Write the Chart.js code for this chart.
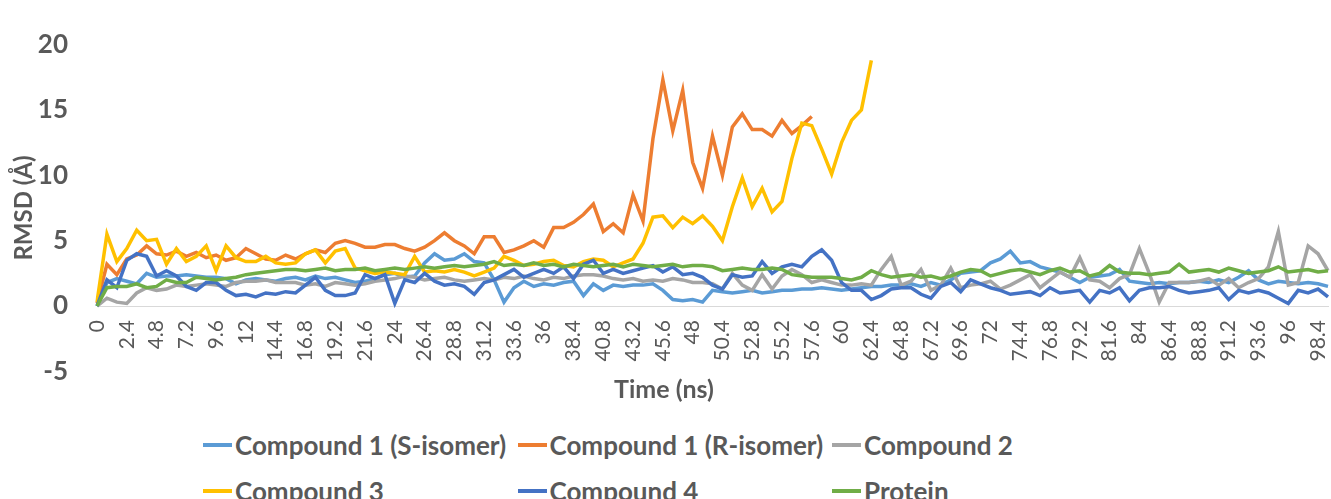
<!DOCTYPE html>
<html lang="en">
<head>
    <meta charset="UTF-8">
    <title>RMSD vs Time</title>
    <script src="https://cdn.jsdelivr.net/npm/chart.js"></script>
    <style>
        body {
            margin: 0;
            background-color: white;
            font-family: Lato, Arial, sans-serif;
        }
        #wrap {
            position: relative;
            width: 1331px;
            height: 499px;
            overflow: hidden;
        }
        #chartBox {
            position: absolute;
            left: 0;
            top: 0;
            width: 1331px;
            height: 416px;
        }
        .legend-item {
            position: absolute;
            display: flex;
            align-items: center;
            color: #595959;
            font-weight: bold;
            font-size: 26px;
            white-space: nowrap;
            transform: translateY(-50%);
        }
        .legend-item .swatch {
            display: inline-block;
            width: 29px;
            height: 4px;
            margin-right: 3px;
        }
    </style>
</head>
<body>
    <div id="wrap">
        <div id="chartBox"><canvas id="rmsdChart"></canvas></div>
        <div id="legend"></div>
    </div>

    <script>
        // time axis, 0.8 ns per frame
        const timeLabels = [];
        for (let i = 0; i < 125; i++) timeLabels.push((Math.round(i * 8) / 10).toString());

        const seriesNames = ['Compound 1 (S-isomer)', 'Compound 1 (R-isomer)', 'Compound 2',
                             'Compound 3', 'Compound 4', 'Protein'];
        const seriesColors = ['#5B9BD5', '#ED7D31', '#A5A5A5', '#FFC000', '#4472C4', '#70AD47'];

        const compound1S = [
            0.0, 1.8, 2.1, 1.9, 1.7, 2.5, 2.2, 2.3, 2.3, 2.4,
            2.3, 2.2, 2.2, 2.1, 1.7, 2.0, 2.1, 2.0, 1.9, 2.1,
            2.2, 2.0, 2.3, 2.1, 2.2, 2.0, 1.8, 1.9, 2.1, 2.4,
            2.5, 2.2, 2.3, 3.3, 4.0, 3.5, 3.6, 4.0, 3.4, 3.3,
            2.0, 0.3, 1.4, 1.9, 1.5, 1.7, 1.6, 1.8, 1.9, 0.8,
            1.7, 1.2, 1.6, 1.5, 1.6, 1.6, 1.7, 1.2, 0.5, 0.4,
            0.5, 0.3, 1.2, 1.1, 1.0, 1.1, 1.2, 1.0, 1.1, 1.2,
            1.2, 1.3, 1.3, 1.4, 1.3, 1.2, 1.3, 1.4, 1.5, 1.5,
            1.6, 1.6, 1.7, 1.5, 1.8, 1.6, 2.0, 2.5, 2.6, 2.7,
            3.3, 3.6, 4.2, 3.3, 3.4, 3.0, 2.8, 2.6, 2.2, 1.8,
            2.2, 2.3, 2.4, 2.8, 1.9, 1.8, 1.7, 1.8, 1.7, 1.8,
            1.8, 1.9, 1.8, 2.0, 1.8, 2.2, 2.7, 2.0, 1.7, 1.9,
            1.8, 1.7, 1.8, 1.7, 1.5
        ];

        const compound1R = [
            0.2, 3.2, 2.4, 3.6, 3.9, 4.6, 4.0, 3.9, 4.2, 3.8,
            4.1, 3.7, 3.9, 3.5, 3.7, 4.4, 4.0, 3.6, 3.5, 3.9,
            3.6, 4.0, 4.3, 4.1, 4.8, 5.0, 4.8, 4.5, 4.5, 4.7,
            4.7, 4.4, 4.2, 4.5, 5.0, 5.6, 5.0, 4.6, 4.0, 5.3,
            5.3, 4.1, 4.3, 4.6, 5.0, 4.5, 6.0, 6.0, 6.4, 7.0,
            7.8, 5.7, 6.3, 5.6, 8.5, 6.5, 12.8, 17.3, 13.4, 16.5,
            11.0, 9.0, 13.0, 10.0, 13.7, 14.7, 13.5, 13.5, 13.0, 14.2,
            13.2, 13.8, 14.5
        ];

        const compound2 = [
            0.0, 0.6, 0.3, 0.2, 1.0, 1.4, 1.2, 1.3, 1.6, 1.5,
            1.6, 1.7, 1.6, 1.5, 1.8, 1.9, 1.9, 2.0, 1.8, 1.8,
            1.8, 1.6, 1.7, 1.5, 1.8, 1.7, 1.6, 1.7, 1.9, 2.0,
            2.1, 2.3, 2.2, 2.0, 2.1, 2.2, 2.0, 1.9, 2.0, 2.1,
            2.0, 2.2, 2.1, 2.3, 2.1, 2.0, 2.2, 2.1, 2.3, 2.4,
            2.4, 2.3, 2.1, 2.0, 2.1, 1.9, 2.0, 1.9, 2.1, 2.0,
            1.8, 1.8, 1.7, 1.3, 2.5, 1.6, 1.2, 2.4, 1.3, 2.3,
            2.8, 2.4, 1.8, 2.0, 1.8, 1.6, 1.6, 1.7, 1.6, 2.8,
            3.8, 1.6, 1.9, 2.8, 1.2, 1.6, 2.9, 1.4, 1.6, 1.7,
            1.9, 1.3, 1.6, 2.0, 2.4, 1.4, 2.0, 2.6, 2.2, 3.7,
            2.0, 1.9, 1.4, 2.1, 2.4, 4.4, 2.5, 0.3, 1.8, 1.8,
            1.8, 1.9, 2.1, 1.6, 2.1, 1.4, 1.8, 2.1, 3.0, 5.7,
            1.6, 1.8, 4.6, 4.0, 2.7
        ];

        const compound3 = [
            0.3, 5.5, 3.4, 4.4, 5.8, 5.0, 5.1, 3.2, 4.4, 3.4,
            3.8, 4.6, 2.7, 4.6, 3.7, 3.4, 3.4, 3.8, 3.3, 3.2,
            3.3, 4.0, 4.3, 3.3, 4.2, 4.4, 2.9, 2.7, 2.5, 2.6,
            2.5, 2.4, 3.8, 2.6, 2.7, 2.6, 2.8, 2.6, 2.3, 2.6,
            2.9, 3.8, 3.5, 3.1, 3.2, 3.4, 3.5, 3.1, 3.0, 3.4,
            3.6, 3.5, 3.0, 3.3, 3.6, 4.8, 6.8, 6.9, 6.0, 6.8,
            6.3, 6.9, 6.1, 5.0, 7.6, 9.8, 7.6, 9.0, 7.2, 8.0,
            11.3, 14.0, 13.8, 12.0, 10.1, 12.5, 14.2, 15.0, 18.8
        ];

        const compound4 = [
            0.0, 2.0, 1.4, 3.5, 4.0, 3.8, 2.3, 2.7, 2.3, 1.5,
            1.2, 1.8, 1.8, 1.2, 0.8, 0.9, 0.7, 1.0, 0.9, 1.1,
            1.0, 1.6, 2.2, 1.2, 0.8, 0.8, 1.0, 2.4, 2.1, 2.4,
            0.2, 2.0, 1.8, 2.5, 1.9, 1.6, 1.7, 1.5, 0.9, 1.8,
            2.0, 2.4, 2.8, 2.2, 2.5, 2.8, 2.5, 3.0, 2.1, 3.2,
            3.5, 2.5, 2.8, 2.5, 2.7, 2.9, 3.1, 2.6, 3.0, 2.4,
            2.5, 2.2, 1.6, 1.3, 2.4, 2.2, 2.3, 3.4, 2.5, 3.0,
            3.2, 3.0, 3.8, 4.3, 3.5, 1.8, 1.2, 1.2, 0.5, 0.8,
            1.3, 1.4, 1.4, 0.9, 0.6, 1.5, 1.8, 1.1, 2.0, 1.7,
            1.4, 1.2, 0.9, 1.0, 1.1, 0.8, 1.4, 1.0, 1.1, 1.2,
            0.3, 1.2, 1.0, 1.4, 0.4, 1.2, 1.4, 1.4, 1.5, 1.2,
            1.0, 1.1, 1.2, 1.4, 0.5, 1.2, 1.0, 1.2, 1.0, 0.6,
            0.2, 1.2, 1.0, 1.3, 0.7
        ];

        const protein = [
            0.0, 1.4, 1.5, 1.5, 1.7, 1.4, 1.5, 2.0, 1.8, 1.8,
            2.2, 2.1, 2.0, 2.1, 2.2, 2.4, 2.5, 2.6, 2.7, 2.8,
            2.8, 2.7, 2.8, 2.9, 2.7, 2.8, 2.8, 2.9, 2.7, 2.8,
            2.9, 2.8, 2.9, 3.0, 2.9, 3.0, 3.1, 3.0, 3.1, 3.2,
            3.4, 3.1, 3.2, 3.1, 3.3, 3.1, 3.2, 3.0, 3.2, 3.1,
            3.0, 3.1, 3.2, 3.0, 3.2, 3.1, 3.0, 3.1, 3.2, 3.0,
            3.1, 3.1, 3.0, 2.7, 2.8, 2.9, 2.8, 2.8, 2.9, 2.8,
            2.4, 2.3, 2.2, 2.2, 2.2, 2.1, 2.0, 2.2, 2.7, 2.4,
            2.2, 2.3, 2.4, 2.2, 2.3, 2.1, 2.3, 2.6, 2.8, 2.7,
            2.3, 2.5, 2.7, 2.8, 2.6, 2.4, 2.7, 2.9, 2.6, 2.7,
            2.3, 2.5, 3.1, 2.6, 2.5, 2.5, 2.4, 2.5, 2.6, 3.2,
            2.6, 2.7, 2.8, 2.6, 2.9, 2.7, 2.5, 2.6, 2.7, 3.0,
            2.6, 2.7, 2.8, 2.6, 2.7
        ];

        const seriesData = [compound1S, compound1R, compound2, compound3, compound4, protein];
        const textColor = '#595959';

        const datasets = seriesNames.map((name, i) => ({
            label: name,
            data: seriesData[i],
            borderColor: seriesColors[i],
            backgroundColor: seriesColors[i],
            borderWidth: 3.5,
            pointRadius: 0,
            tension: 0,
            fill: false,
            order: seriesNames.length - i   // later series on top, like Excel
        }));

        new Chart(document.getElementById('rmsdChart'), {
            type: 'line',
            data: { labels: timeLabels, datasets: datasets },
            options: {
                responsive: true,
                maintainAspectRatio: false,
                animation: false,
                layout: { padding: { top: 27, right: 3, left: 0, bottom: 0 } },
                plugins: {
                    legend: { display: false },
                    tooltip: { enabled: false },
                    title: {
                        display: true,
                        position: 'bottom',
                        text: 'Time (ns)',
                        color: textColor,
                        font: { family: 'Lato', size: 25, weight: 'bold' },
                        padding: { top: 4, bottom: 5 }
                    }
                },
                scales: {
                    x: {
                        type: 'category',
                        position: { y: 0 },
                        afterFit: (scale) => {
                            scale.height = 0;
                            scale.paddingLeft = 0;
                            scale.paddingRight = 0;
                        },
                        grid: { display: false, drawTicks: false },
                        border: { display: true, color: '#D9D9D9', width: 1 },
                        ticks: {
                            autoSkip: false,
                            minRotation: 90,
                            maxRotation: 90,
                            padding: 14,
                            color: textColor,
                            font: { family: 'Lato', size: 21 },
                            callback: function (value, index) {
                                return index % 3 === 0 ? this.getLabelForValue(value) : '';
                            }
                        }
                    },
                    y: {
                        min: -5,
                        max: 20,
                        afterFit: (scale) => { scale.width = 97; },
                        grid: { display: false, drawTicks: false },
                        border: { display: false },
                        ticks: {
                            stepSize: 5,
                            padding: 29,
                            color: textColor,
                            font: { family: 'Lato', size: 26, weight: 'bold' }
                        },
                        title: {
                            display: true,
                            text: 'RMSD (Å)',
                            color: textColor,
                            font: { family: 'Lato', size: 24, weight: 'bold' },
                            padding: { top: 10, bottom: 0 }
                        }
                    }
                }
            }
        });

        // legend laid out in Excel-style columns
        const legendEl = document.getElementById('legend');
        seriesNames.forEach((name, i) => {
            const item = document.createElement('div');
            item.className = 'legend-item';
            item.style.left = (203 + (i % 3) * 314.5) + 'px';
            item.style.top = (445 + Math.floor(i / 3) * 46) + 'px';
            item.innerHTML = `<span class="swatch" style="background:${seriesColors[i]}"></span>${name}`;
            legendEl.appendChild(item);
        });
    </script>
</body>
</html>
